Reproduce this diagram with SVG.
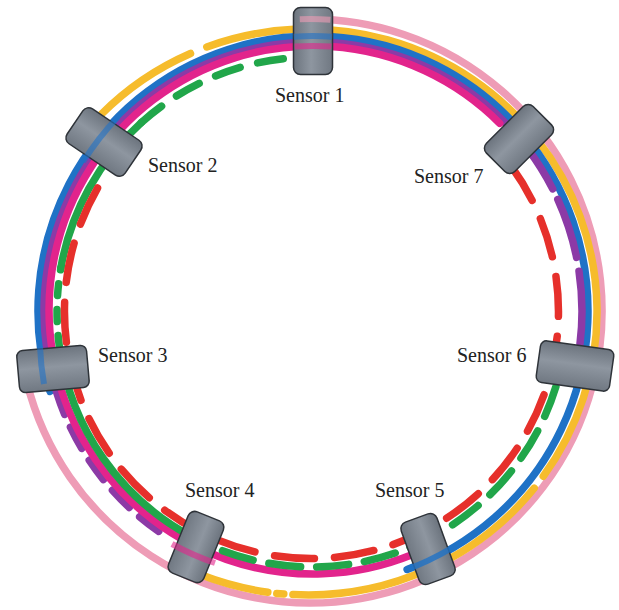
<svg xmlns="http://www.w3.org/2000/svg" width="619" height="610" viewBox="0 0 619 610">
  <style>
    .ring { fill: none; stroke-width: 7.5; stroke-linecap: round; }
    .pink { stroke: #EE9CB6; }
    .yellow { stroke: #F6BC2C; }
    .blue { stroke: #1F72C6; }
    .purple { stroke: #8C3AA6; }
    .magenta { stroke: #E2248C; }
    .green { stroke: #21A64A; }
    .red { stroke: #E6302B; }
    .body { fill: url(#metal); stroke: #2E3339; stroke-width: 1.5; }
    .label { font-family: "Liberation Serif", "Times New Roman", serif; font-size: 20px; fill: #222; }
    .over { fill: none; stroke-width: 6; opacity: 0.6; }
  </style>
  <defs>
    <linearGradient id="metal" x1="0" y1="0" x2="0" y2="1">
      <stop offset="0" stop-color="#6C747E"/>
      <stop offset="0.45" stop-color="#8E96A0"/>
      <stop offset="1" stop-color="#707882"/>
    </linearGradient>
  </defs>

  <!-- coloured rings, outermost first -->
  <g id="connectors">
    <path class="ring pink" d="M299.8,19.2 A292,292 0 1 1 26.7,381.6"/>
    <path class="ring yellow" d="M101.2,114.4 A289,283 0 0 1 190.5,53.5 M206.8,46.9 A289,283 0 0 1 543.3,476.3 M534.2,488.2 A289,283 0 0 1 292.9,594.6 M283.8,594.0 A289,283 0 0 1 276.8,593.4 M267.8,592.2 A289,283 0 0 1 201.6,575.1"/>
    <path class="ring blue" d="M50,391.4 A275,275 0 1 1 407.1,569.4"/>
    <path class="ring purple" stroke-dasharray="24 14" d="M158.7,531.4 A269,269 0 0 1 55.8,389.7"/>
    <path class="ring purple" d="M55.8,389.7 A269,269 0 0 1 525,145.4 M527.8,149.1 A269,269 0 0 1 552.7,188.9 M557.8,199.4 A269,269 0 0 1 576.6,257.4 M579,271.2 A269,269 0 0 1 580,343.8"/>
    <path class="ring magenta" d="M411.9,554.8 A264,264 0 1 1 499.7,123.3"/>
    <path class="ring green" stroke-dasharray="32 16" d="M555.9,386.6 A255,255 0 0 1 192.3,537.1"/>
    <path class="ring green" d="M192.3,537.1 A255,255 0 0 1 59.5,347.5"/>
    <path class="ring green" stroke-dasharray="12 14" d="M59.5,347.5 A255,255 0 0 1 60.9,267.7"/>
    <path class="ring green" d="M60.9,267.7 A255,255 0 0 1 141.4,122.5"/>
    <path class="ring green" stroke-dasharray="26 18" d="M141.4,122.5 A255,255 0 0 1 320.9,57.2"/>
    <path class="ring red" stroke-dasharray="40 20" d="M511.3,166.3 A247,247 0 1 1 102,180.6"/>
  </g>

  <!-- sensors: cylinders with their axis along the radius -->
  <g id="sensor1" transform="translate(313,41) rotate(-90)">
    <rect class="body" x="-33.5" y="-19.5" width="67" height="39" rx="7"/>
  </g>
  <g id="sensor2" transform="translate(104,142) rotate(34)">
    <rect class="body" x="-35" y="-21" width="70" height="42" rx="7"/>
  </g>
  <g id="sensor3" transform="translate(53,369) rotate(-5)">
    <rect class="body" x="-35" y="-21" width="70" height="42" rx="6"/>
  </g>
  <g id="sensor4" transform="translate(196,547) rotate(112)">
    <rect class="body" x="-33" y="-19" width="66" height="38" rx="7"/>
  </g>
  <g id="sensor5" transform="translate(428,549) rotate(70)">
    <rect class="body" x="-33" y="-19" width="66" height="38" rx="7"/>
  </g>
  <g id="sensor6" transform="translate(575,366) rotate(8)">
    <rect class="body" x="-37" y="-21" width="74" height="42" rx="6"/>
  </g>
  <g id="sensor7" transform="translate(519,139) rotate(-45)">
    <rect class="body" x="-33" y="-20" width="66" height="40" rx="7"/>
  </g>

  <!-- ring bands seen across the sensor bodies -->
  <g id="bands">
    <path class="over pink" d="M299.8,19.2 A292,292 0 0 1 330.4,19.7"/>
    <path class="over blue" d="M293.8,36.7 A275,275 0 0 1 332.2,36.7"/>
    <path class="over magenta" d="M294.6,46.6 A264,264 0 0 1 331.4,46.6"/>
    <path class="over blue" d="M83,162 A275,275 0 0 1 118,117"/>
    <path class="over blue" d="M44,384 A275,275 0 0 1 40,346"/>
    <path class="over magenta" d="M215,563 A264,264 0 0 1 172,544"/>
    <path class="over blue" style="opacity:0.8" d="M450,549 A275,275 0 0 1 407.1,569.4"/>
  </g>

  <!-- labels -->
  <g id="labels">
    <text class="label" x="275" y="102">Sensor 1</text>
    <text class="label" x="148" y="172">Sensor 2</text>
    <text class="label" x="414" y="183">Sensor 7</text>
    <text class="label" x="98" y="362">Sensor 3</text>
    <text class="label" x="457" y="362">Sensor 6</text>
    <text class="label" x="185" y="497">Sensor 4</text>
    <text class="label" x="375" y="497">Sensor 5</text>
  </g>
</svg>
